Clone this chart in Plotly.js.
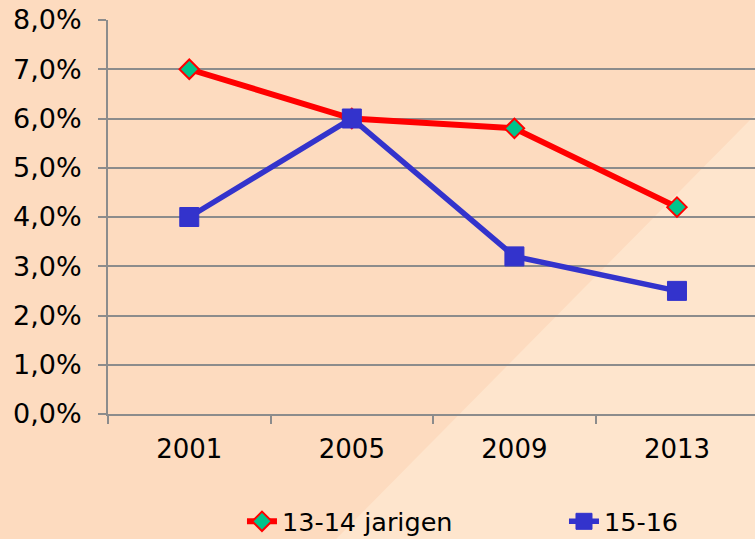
<!DOCTYPE html>
<html>
<head>
<meta charset="utf-8">
<script src="https://cdn.plot.ly/plotly-3.0.1.min.js"></script>
<style>html,body{margin:0;padding:0;background:#FDDBBF;}#chart{width:755px;height:539px;}</style>
</head>
<body>
<div id="chart"></div>
<script>
var years = ["2001", "2005", "2009", "2013"];
var series1Name = "13-14 jarigen";
var series1 = [7.0, 6.0, 5.8, 4.2];
var series2Name = "15-16";
var series2 = [4.0, 6.0, 3.2, 2.5];
var yTicks = [0, 1, 2, 3, 4, 5, 6, 7, 8];
var yTickText = yTicks.map(function (v) { return v.toFixed(1).replace(".", ",") + "%"; });

var font = "DejaVu Sans, Verdana, sans-serif";
var traces = [
  {
    x: years, y: series1, name: series1Name, type: "scatter", mode: "lines+markers",
    legend: "legend",
    line: {color: "#FF0000", width: 6},
    marker: {symbol: "diamond", size: 15, color: "#00C48C", line: {color: "#FF0000", width: 2}}
  },
  {
    x: years, y: series2, name: series2Name, type: "scatter", mode: "lines+markers",
    legend: "legend2",
    line: {color: "#3333CC", width: 5.5},
    marker: {symbol: "square", size: 19, color: "#3333CC", line: {color: "#3333CC", width: 1}}
  }
];

function legendAt(x) {
  return {
    orientation: "h", xref: "container", yref: "container",
    x: x, y: 0.032, xanchor: "left", yanchor: "middle",
    bgcolor: "rgba(0,0,0,0)", font: {family: font, size: 25.5, color: "#000"}
  };
}

var layout = {
  width: 755, height: 539,
  margin: {l: 108, r: 0, t: 20, b: 125, pad: 0},
  paper_bgcolor: "#FDDBBF",
  plot_bgcolor: "rgba(0,0,0,0)",
  font: {family: font, size: 25, color: "#000000"},
  showlegend: true,
  legend: legendAt(0.3205),
  legend2: legendAt(0.747),
  xaxis: {
    type: "category", range: [-0.5, 3.48],
    showgrid: false, showline: true, linecolor: "#8C8C8C", linewidth: 2,
    ticks: "outside", tickson: "boundaries", ticklen: 8, tickcolor: "#8C8C8C", tickwidth: 2,
    ticklabelstandoff: 11,
    tickfont: {family: font, size: 26, color: "#000"},
    zeroline: false, fixedrange: true
  },
  yaxis: {
    range: [0, 8], tickmode: "array", tickvals: yTicks, ticktext: yTickText,
    showgrid: true, gridcolor: "#8C8C8C", gridwidth: 2,
    showline: true, linecolor: "#8C8C8C", linewidth: 2,
    ticks: "outside", ticklen: 8, tickcolor: "#8C8C8C", tickwidth: 2,
    ticklabelstandoff: 11,
    tickfont: {family: font, size: 27, color: "#000"},
    zeroline: false, fixedrange: true
  },
  shapes: [
    {
      type: "path", xref: "paper", yref: "paper", layer: "below",
      path: "M 0.351 -0.32 L 1.0 0.759 L 1.0 -0.32 Z",
      fillcolor: "#FEE5CD", line: {width: 0}
    }
  ]
};

Plotly.newPlot("chart", traces, layout, {displayModeBar: false, staticPlot: true});
</script>
</body>
</html>
